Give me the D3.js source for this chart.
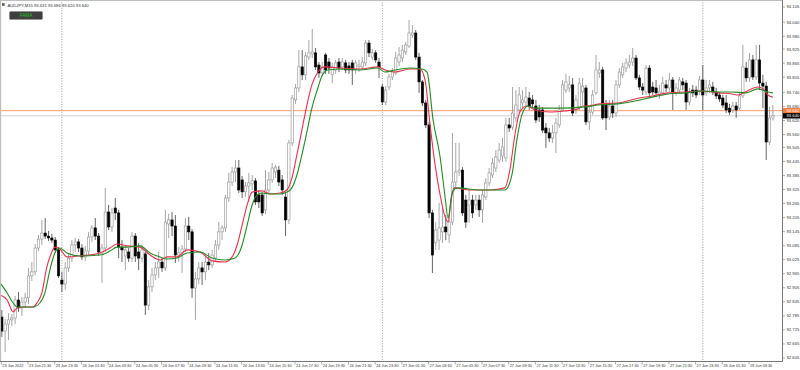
<!DOCTYPE html>
<html><head><meta charset="utf-8">
<script src="https://cdn.jsdelivr.net/npm/d3@7"></script>
<style>html,body{margin:0;padding:0;background:#fff;}svg{display:block;}</style>
</head><body>
<svg id="c" width="800" height="370"></svg>
<script>
// ---------------- DATA ----------------
const symbolTitle = "AUDJPY,M15";
const lastBar = [93.631, 93.686, 93.620, 93.640];
const askPrice = 93.662;
const bidPrice = 93.640;

const opens = [
92.780,92.720,92.750,92.768,92.776,92.853,92.819,92.844,92.862,92.956,
92.973,93.075,93.113,93.139,93.126,93.118,93.109,93.067,92.938,92.921,
92.990,93.032,93.088,93.101,93.075,93.037,93.062,93.122,93.161,93.126,
93.050,93.075,93.229,93.165,93.246,93.225,93.079,93.041,93.058,93.032,
93.126,93.058,93.032,93.050,92.831,92.909,92.960,92.990,93.015,92.990,
93.178,93.195,93.169,93.045,93.054,93.071,93.169,93.144,92.904,92.943,
92.990,92.973,93.015,93.003,93.032,93.088,93.144,93.161,93.289,93.357,
93.400,93.417,93.366,93.315,93.340,93.349,93.362,93.302,93.302,93.238,
93.323,93.366,93.400,93.408,93.366,93.293,93.195,93.524,93.708,93.759,
93.849,93.815,93.891,93.904,93.909,93.857,93.823,93.900,93.870,93.815,
93.836,93.870,93.849,93.866,93.853,93.866,93.836,93.849,93.849,93.866,
93.951,93.891,93.909,93.870,93.763,93.699,93.763,93.806,93.823,93.870,
93.887,93.913,93.938,93.985,93.994,93.891,93.785,93.695,93.601,93.225,
93.097,93.109,93.144,93.165,93.131,93.186,93.357,93.400,93.408,93.280,
93.259,93.280,93.259,93.280,93.238,93.293,93.353,93.387,93.417,93.451,
93.468,93.460,93.601,93.592,93.631,93.665,93.695,93.699,93.716,93.708,
93.682,93.665,93.665,93.588,93.567,93.545,93.567,93.601,93.665,93.750,
93.759,93.772,93.665,93.678,93.742,93.759,93.614,93.656,93.738,93.823,
93.836,93.686,93.635,93.682,93.652,93.772,93.815,93.844,93.857,93.870,
93.887,93.802,93.763,93.742,93.844,93.763,93.759,93.729,93.738,93.772,
93.759,93.793,93.738,93.750,93.785,93.780,93.699,93.750,93.750,93.742,
93.793,93.738,93.759,93.763,93.742,93.729,93.716,93.695,93.673,93.665,
93.682,93.673,93.725,93.844,93.802,93.879,93.806,93.879,93.780,93.767,
93.528,93.631];
const highs = [
92.810,92.772,92.797,92.793,92.870,92.887,92.866,92.883,92.990,93.015,
93.092,93.131,93.195,93.203,93.148,93.135,93.122,93.079,92.973,93.015,
93.050,93.109,93.118,93.113,93.092,93.084,93.144,93.173,93.203,93.139,
93.092,93.332,93.259,93.246,93.289,93.238,93.109,93.088,93.075,93.144,
93.139,93.097,93.088,93.058,92.938,92.990,93.015,93.058,93.032,93.238,
93.221,93.229,93.216,93.079,93.088,93.203,93.208,93.156,92.973,93.015,
93.015,93.045,93.054,93.067,93.109,93.186,93.173,93.302,93.396,93.421,
93.451,93.451,93.383,93.357,93.396,93.387,93.374,93.323,93.315,93.408,
93.400,93.438,93.430,93.426,93.387,93.315,93.537,93.729,93.776,93.921,
93.921,93.913,93.964,94.011,93.930,93.870,93.870,93.909,93.887,93.866,
93.879,93.887,93.887,93.879,93.870,93.879,93.879,93.879,93.891,93.964,
93.964,93.926,93.921,93.887,93.776,93.767,93.819,93.844,93.913,93.934,
93.943,93.956,94.049,94.028,94.007,93.909,93.793,93.708,93.614,93.238,
93.186,93.268,93.250,93.216,93.216,93.567,93.524,93.524,93.421,93.302,
93.323,93.302,93.302,93.302,93.323,93.374,93.417,93.460,93.494,93.524,
93.545,93.631,93.631,93.763,93.750,93.763,93.750,93.763,93.742,93.729,
93.708,93.686,93.678,93.609,93.588,93.601,93.631,93.686,93.793,93.819,
93.810,93.802,93.729,93.802,93.802,93.772,93.686,93.750,93.900,93.870,
93.849,93.708,93.708,93.708,93.793,93.844,93.866,93.887,93.900,93.930,
93.900,93.815,93.780,93.857,93.857,93.785,93.793,93.772,93.806,93.793,
93.823,93.806,93.780,93.806,93.802,93.793,93.759,93.772,93.767,93.810,
93.857,93.793,93.793,93.785,93.759,93.742,93.729,93.729,93.691,93.699,
93.699,93.742,93.943,93.870,93.909,93.900,93.943,93.943,93.815,93.785,
93.678,93.686];
const lows = [
92.695,92.631,92.682,92.742,92.750,92.802,92.785,92.819,92.836,92.934,
92.960,93.062,93.088,93.113,93.105,93.097,93.054,92.947,92.887,92.896,
92.973,93.015,93.058,93.058,93.024,93.020,93.045,93.101,93.109,93.041,
92.926,93.058,93.152,93.144,93.195,93.032,93.015,92.981,93.015,93.015,
93.015,92.981,93.015,92.789,92.810,92.887,92.938,92.947,92.973,92.977,
93.118,93.126,93.011,93.015,92.968,93.058,93.109,92.862,92.768,92.921,
92.917,92.938,92.981,92.990,93.015,93.067,93.109,93.144,93.272,93.340,
93.357,93.310,93.289,93.293,93.272,93.323,93.259,93.246,93.212,93.220,
93.310,93.353,93.374,93.340,93.302,93.126,93.178,93.511,93.691,93.742,
93.793,93.793,93.879,93.887,93.836,93.802,93.810,93.819,93.819,93.780,
93.819,93.827,93.836,93.823,93.819,93.772,93.819,93.827,93.836,93.853,
93.891,93.879,93.866,93.802,93.686,93.686,93.750,93.793,93.815,93.853,
93.870,93.900,93.930,93.973,93.879,93.738,93.682,93.588,93.203,92.968,
93.067,93.067,93.097,93.109,93.097,93.173,93.332,93.383,93.212,93.161,
93.182,93.203,93.238,93.208,93.182,93.280,93.340,93.374,93.400,93.438,
93.443,93.443,93.571,93.579,93.614,93.652,93.673,93.682,93.665,93.673,
93.609,93.614,93.567,93.503,93.528,93.524,93.481,93.588,93.656,93.738,
93.742,93.639,93.648,93.665,93.686,93.601,93.579,93.644,93.729,93.802,
93.622,93.579,93.622,93.631,93.635,93.759,93.802,93.827,93.844,93.853,
93.793,93.750,93.729,93.729,93.725,93.729,93.720,93.712,93.725,93.742,
93.742,93.665,93.725,93.738,93.750,93.665,93.686,93.720,93.716,93.729,
93.665,93.725,93.738,93.729,93.712,93.699,93.673,93.652,93.644,93.652,
93.631,93.665,93.716,93.785,93.785,93.793,93.793,93.750,93.673,93.451,
93.515,93.620];
const closes = [
92.720,92.750,92.768,92.776,92.853,92.819,92.844,92.862,92.956,92.973,
93.075,93.113,93.139,93.126,93.118,93.109,93.067,92.956,92.921,92.990,
93.032,93.088,93.101,93.075,93.037,93.062,93.122,93.161,93.126,93.058,
93.075,93.229,93.165,93.225,93.225,93.079,93.067,93.067,93.032,93.126,
93.041,93.032,93.067,92.831,92.909,92.960,92.990,93.015,92.990,93.186,
93.195,93.169,93.045,93.054,93.071,93.169,93.144,92.904,92.943,92.990,
92.973,93.015,93.003,93.045,93.088,93.144,93.161,93.289,93.357,93.400,
93.417,93.323,93.315,93.340,93.353,93.362,93.272,93.272,93.225,93.323,
93.366,93.417,93.421,93.357,93.323,93.195,93.524,93.716,93.759,93.849,
93.815,93.896,93.909,93.913,93.849,93.823,93.849,93.836,93.844,93.849,
93.866,93.844,93.870,93.836,93.836,93.836,93.866,93.857,93.870,93.951,
93.909,93.909,93.879,93.849,93.699,93.750,93.806,93.827,93.887,93.900,
93.921,93.943,93.994,93.994,93.891,93.785,93.695,93.601,93.225,93.045,
93.152,93.161,93.165,93.144,93.186,93.357,93.400,93.408,93.225,93.186,
93.280,93.225,93.280,93.238,93.302,93.353,93.396,93.438,93.464,93.494,
93.507,93.601,93.588,93.652,93.686,93.729,93.708,93.720,93.682,93.691,
93.622,93.635,93.579,93.567,93.545,93.567,93.609,93.665,93.772,93.785,
93.772,93.652,93.708,93.780,93.767,93.614,93.656,93.729,93.836,93.836,
93.631,93.631,93.682,93.652,93.772,93.827,93.849,93.866,93.870,93.887,
93.802,93.763,93.750,93.844,93.738,93.742,93.738,93.742,93.780,93.759,
93.793,93.742,93.759,93.793,93.772,93.699,93.742,93.738,93.729,93.793,
93.729,93.759,93.772,93.742,93.725,93.712,93.686,93.665,93.656,93.682,
93.665,93.725,93.849,93.802,93.879,93.806,93.879,93.780,93.767,93.528,
93.631,93.640];

// moving averages, read at bar positions
const redIdx = [-0.5,1.6,3.4,4.6,7,9.3,10.5,12,13.5,15,15.9,17.4,19.5,23.4,29.4,32.4,34.5,37.5,41.4,44.4,47.4,49.5,52.5,55.5,59.4,63,66.9,69,70.5,72,73.5,75,78,80.4,83.3,85.4,86.9,88.4,89.9,91.4,92.9,94.7,96.8,101.3,107.3,112.7,114.8,117.8,122.3,125.3,126.8,128.3,129.8,131.3,132.8,133.7,134.6,135.5,140.3,146.3,150.7,152.2,153.7,155.2,157.3,159.7,164.2,168.7,172.6,174.1,175.6,179.2,184.6,189.7,194.8,199.6,204.7,209.8,214.6,218.8,220.6,222.7,226.5,228.1,229.5,231];
const redMA = [92.874,92.853,92.802,92.819,92.823,92.823,92.840,92.883,92.994,93.058,93.079,93.071,93.037,93.041,93.054,93.075,93.092,93.084,93.079,93.045,93.024,93.037,93.037,93.067,93.058,93.020,93.015,93.037,93.088,93.173,93.259,93.314,93.319,93.306,93.310,93.323,93.374,93.473,93.579,93.686,93.772,93.827,93.849,93.844,93.840,93.849,93.836,93.827,93.840,93.840,93.793,93.601,93.430,93.302,93.208,93.186,93.280,93.332,93.323,93.323,93.332,93.408,93.558,93.656,93.682,93.665,93.656,93.661,93.669,93.682,93.682,93.691,93.695,93.712,93.725,93.738,93.742,93.746,93.738,93.733,93.729,93.742,93.763,93.755,93.729,93.720];
const greenIdx = [-0.5,1.6,3.4,4.6,9.3,11.4,12.9,14.4,15.9,17.4,19.5,23.4,29.4,32.4,34.5,37.5,41.4,44.4,47.4,49.5,52.5,55.5,59.4,63,66.9,69.9,72,73.5,75,76.5,78,80.4,83.3,85.4,86.9,88.4,89.9,91.4,92.9,94.7,95.9,97.7,101.3,107.3,112.7,114.8,117.8,122.3,125.9,127.4,129.2,131.3,132.8,133.7,134.9,136.4,143.3,150.7,152.8,154.3,155.8,157.6,159.7,167.2,174.7,178.6,184.6,189.7,194.8,199.6,204.7,209.8,214.6,218.8,222.7,226.5,229.5,231];
const greenMA = [92.926,92.883,92.840,92.823,92.823,92.840,92.883,92.981,93.054,93.075,93.054,93.041,93.045,93.062,93.079,93.079,93.084,93.054,93.037,93.028,93.032,93.054,93.058,93.032,93.024,93.032,93.088,93.173,93.259,93.302,93.310,93.306,93.306,93.314,93.332,93.387,93.473,93.571,93.673,93.759,93.810,93.836,93.840,93.836,93.844,93.827,93.836,93.844,93.840,93.827,93.622,93.464,93.293,93.203,93.310,93.332,93.323,93.323,93.387,93.537,93.644,93.682,93.673,93.673,93.678,93.686,93.691,93.703,93.720,93.733,93.738,93.746,93.742,93.742,93.738,93.755,93.742,93.738];

const priceTicks = ["94.105","94.040","93.980","93.925","93.865","93.805","93.740","93.680","93.620","93.560","93.505","93.445","93.385","93.325","93.265","93.205","93.145","93.085","93.025","92.965","92.905","92.845","92.785","92.725","92.665","92.605"];
const timeTickBars = [0,8,16,24,32,40,48,56,64,72,80,88,96,104,112,120,128,136,144,152,160,168,176,184,192,200,208,216,224];
const timeTickLabels = ["23 Jun 2022","23 Jun 21:30","23 Jun 23:30","24 Jun 01:30","24 Jun 03:30","24 Jun 05:30","24 Jun 07:30","24 Jun 09:30","24 Jun 11:30","24 Jun 13:30","24 Jun 15:30","24 Jun 17:30","24 Jun 19:30","24 Jun 21:30","24 Jun 23:30","27 Jun 01:30","27 Jun 03:30","27 Jun 05:30","27 Jun 07:30","27 Jun 09:30","27 Jun 11:30","27 Jun 13:30","27 Jun 15:30","27 Jun 17:30","27 Jun 19:30","27 Jun 21:30","27 Jun 23:30","28 Jun 01:30","28 Jun 03:30"];
const daySeparatorBars = [18, 114, 210];

// ---------------- DRAW ----------------
const svg = d3.select("#c");
const plotR = 782, plotB = 361;
const font = "'Liberation Sans', Arial, sans-serif";
const fs = 4.2;

const x = d3.scaleLinear().domain([0, opens.length - 1]).range([1.8, 772.9]);
const y = d3.scaleLinear().domain([92.605, 94.105]).range([358, 7]);

svg.append("rect").attr("width",800).attr("height",370).attr("fill","#fff");

svg.append("defs").append("clipPath").attr("id","clip")
  .append("rect").attr("x",0).attr("y",0).attr("width",plotR).attr("height",plotB);

const g = svg.append("g").attr("clip-path","url(#clip)");

// day separators
g.selectAll("line.sep").data(daySeparatorBars).join("line")
  .attr("x1",d=>x(d)).attr("x2",d=>x(d)).attr("y1",0).attr("y2",plotB)
  .attr("stroke","#808080").attr("stroke-width",0.8).attr("stroke-dasharray","1,1.6");

// bid / ask lines
g.append("line").attr("x1",0).attr("x2",plotR).attr("y1",y(bidPrice)).attr("y2",y(bidPrice))
  .attr("stroke","#cfcfcf").attr("stroke-width",1);
g.append("line").attr("x1",0).attr("x2",plotR).attr("y1",y(askPrice)).attr("y2",y(askPrice))
  .attr("stroke","#ff9a66").attr("stroke-width",1);

// candles
const idx = d3.range(opens.length);
g.selectAll("line.wick").data(idx).join("line")
  .attr("x1",i=>x(i)).attr("x2",i=>x(i))
  .attr("y1",i=>y(highs[i])).attr("y2",i=>y(lows[i]))
  .attr("stroke",i=>closes[i]>=opens[i]?"#9c9c9c":"#555")
  .attr("stroke-width",0.9);
const bw = 2.3;
g.selectAll("rect.body").data(idx).join("rect")
  .attr("x",i=>x(i)-bw/2)
  .attr("y",i=>y(Math.max(opens[i],closes[i])))
  .attr("width",bw)
  .attr("height",i=>Math.max(0.8, Math.abs(y(opens[i])-y(closes[i]))))
  .attr("fill",i=>closes[i]>=opens[i]?"#ffffff":"#000000")
  .attr("stroke",i=>closes[i]>=opens[i]?"#909090":"#000000")
  .attr("stroke-width",0.6);

// moving averages
const line = d3.line().x(d=>x(d[0])).y(d=>y(d[1])).curve(d3.curveMonotoneX);
g.append("path").datum(redIdx.map((b,k)=>[b,redMA[k]]))
  .attr("d",line).attr("fill","none").attr("stroke","#e8304f").attr("stroke-width",1.1);
g.append("path").datum(greenIdx.map((b,k)=>[b,greenMA[k]]))
  .attr("d",line).attr("fill","none").attr("stroke","#228b22").attr("stroke-width",1.1);

// frame
svg.append("line").attr("x1",0.5).attr("x2",0.5).attr("y1",0).attr("y2",plotB).attr("stroke","#bdbdbd").attr("stroke-width",1.2);
svg.append("line").attr("x1",0).attr("x2",plotR).attr("y1",0.5).attr("y2",0.5).attr("stroke","#bdbdbd").attr("stroke-width",1);
svg.append("line").attr("x1",plotR+0.5).attr("x2",plotR+0.5).attr("y1",0).attr("y2",plotB+0.5).attr("stroke","#777").attr("stroke-width",1);
svg.append("line").attr("x1",0).attr("x2",plotR+0.5).attr("y1",plotB+0.5).attr("y2",plotB+0.5).attr("stroke","#777").attr("stroke-width",1);

// price axis
const pa = svg.append("g");
pa.selectAll("line").data(priceTicks).join("line")
  .attr("x1",plotR+1).attr("x2",plotR+3).attr("y1",d=>y(+d)).attr("y2",d=>y(+d))
  .attr("stroke","#777").attr("stroke-width",0.6);
pa.selectAll("text").data(priceTicks).join("text")
  .attr("x",plotR+4.5).attr("y",d=>y(+d)).attr("dy","0.35em")
  .attr("font-family",font).attr("font-size",fs).attr("fill","#333").text(d=>d);

// time axis
const ta = svg.append("g");
ta.selectAll("line").data(timeTickBars).join("line")
  .attr("x1",d=>x(d)-0.5).attr("x2",d=>x(d)-0.5).attr("y1",plotB+1).attr("y2",plotB+3.5)
  .attr("stroke","#777").attr("stroke-width",0.6);
ta.selectAll("text").data(timeTickBars).join("text")
  .attr("x",d=>x(d)+0.5).attr("y",367.3)
  .attr("font-family",font).attr("font-size",3.85).attr("fill","#333")
  .text((d,k)=>timeTickLabels[k]);

// current price labels
function priceTag(p, fill){
  const yy = y(p);
  svg.append("rect").attr("x",plotR+1).attr("y",yy-2.7).attr("width",800-plotR-1).attr("height",5.4).attr("fill",fill);
  svg.append("text").attr("x",plotR+4.5).attr("y",yy).attr("dy","0.35em")
    .attr("font-family",font).attr("font-size",fs).attr("fill","#fff").text(p.toFixed(3));
}
priceTag(askPrice, "#ff7f3f");
priceTag(bidPrice, "#000");

// header
svg.append("rect").attr("x",2).attr("y",3.2).attr("width",2.6).attr("height",2.6).attr("fill","#555");
svg.append("text").attr("x",7.5).attr("y",6.6)
  .attr("font-family",font).attr("font-size",fs).attr("fill","#333")
  .text(symbolTitle + "  " + lastBar.map(v=>v.toFixed(3)).join(" "));

// FAMA button
svg.append("rect").attr("x",9.5).attr("y",11.5).attr("width",33).attr("height",8).attr("rx",1)
  .attr("fill","#3f3f3f").attr("stroke","#8c8c8c").attr("stroke-width",0.6);
svg.append("text").attr("x",26).attr("y",15.6).attr("dy","0.35em").attr("text-anchor","middle")
  .attr("font-family",font).attr("font-size",4.6).attr("fill","#25c025").text("FAMA");
</script>
</body></html>
